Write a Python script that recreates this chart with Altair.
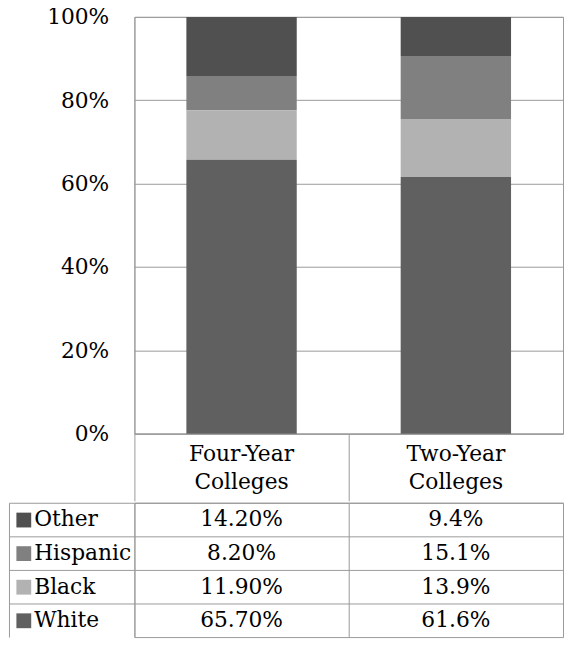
import altair as alt
import pandas as pd

categories = ["Four-Year Colleges", "Two-Year Colleges"]
series = ["Other", "Hispanic", "Black", "White"]
four_year = [14.2, 8.2, 11.9, 65.7]
two_year = [9.4, 15.1, 13.9, 61.6]
four_year_labels = ["14.20%", "8.20%", "11.90%", "65.70%"]
two_year_labels = ["9.4%", "15.1%", "13.9%", "61.6%"]
colors = ["#505050", "#808080", "#b2b2b2", "#606060"]

FONT = "DejaVu Serif"
GRID = "#999999"
FS = 22

rows = []
for cat, vals, labs in [(categories[0], four_year, four_year_labels),
                        (categories[1], two_year, two_year_labels)]:
    for i, (s, v, l) in enumerate(zip(series, vals, labs)):
        rows.append({"category": cat, "series": s, "value": v, "label": l,
                     "stack": len(series) - 1 - i})
df = pd.DataFrame(rows)
legend_df = pd.DataFrame({"series": series})

color_scale = alt.Scale(domain=series, range=colors)
col_scale = alt.Scale(type="band", paddingInner=0, paddingOuter=0)
row_scale = alt.Scale(type="band", paddingInner=0, paddingOuter=0)

top = alt.Chart(df).mark_bar(width=alt.RelativeBandSize(0.515)).encode(
    x=alt.X("category:N", sort=categories, scale=col_scale,
            axis=alt.Axis(title=None, labelAngle=0, labelExpr="split(datum.label, ' ')",
                          labelFont=FONT, labelFontSize=FS, labelColor="black",
                          labelLineHeight=29, labelBaseline="top", labelPadding=-58,
                          ticks=True, tickSize=68, tickColor=GRID, bandPosition=0,
                          domain=True, domainColor=GRID, grid=False,
                          minExtent=68, maxExtent=68)),
    y=alt.Y("value:Q", stack="normalize", scale=alt.Scale(domain=[0, 1]),
            axis=alt.Axis(title=None, format=".0%", values=[0, 0.2, 0.4, 0.6, 0.8, 1],
                          labelFont=FONT, labelFontSize=FS, labelColor="black",
                          labelPadding=26, ticks=False, domain=True, domainColor=GRID,
                          grid=True, gridColor=GRID, minExtent=127, maxExtent=127)),
    color=alt.Color("series:N", scale=color_scale, legend=None),
    order=alt.Order("stack:Q"),
).properties(width=434, height=422)

# data cells + row separators (ticks extend the row lines into the legend column)
cells = alt.Chart(df).mark_text(font=FONT, fontSize=FS, color="black").encode(
    x=alt.X("category:N", sort=categories, scale=col_scale,
            axis=alt.Axis(title=None, labels=False, ticks=False, domain=False,
                          grid=True, gridColor=GRID, bandPosition=0)),
    y=alt.Y("series:N", sort=series, scale=row_scale,
            axis=alt.Axis(title=None, orient="left", labels=False, ticks=True,
                          tickSize=127, tickColor=GRID, tickWidth=1, domain=False,
                          grid=True, gridColor=GRID, bandPosition=0)),
    text="label:N",
)

# legend column: coloured swatches (axis ticks) and series names
swatch_color = {
    "condition": [{"test": f"datum.value === '{s}'", "value": c}
                  for s, c in zip(series[:-1], colors[:-1])],
    "value": colors[-1],
}
legend_axis = alt.Chart(legend_df).mark_point(opacity=0).encode(
    y=alt.Y("series:N", sort=series, scale=row_scale,
            axis=alt.Axis(title=None, orient="left", offset=105, domain=False,
                          grid=False, ticks=True, tickSize=15, tickWidth=15,
                          tickColor=swatch_color, labelAlign="left",
                          labelBaseline="middle", labelPadding=-18,
                          labelFont=FONT, labelFontSize=FS, labelColor="black")),
)

# left border of the legend column
border_axis = alt.Chart(legend_df).mark_point(opacity=0).encode(
    y=alt.Y("series:N", sort=series, scale=row_scale,
            axis=alt.Axis(title=None, orient="left", offset=127, domain=True,
                          domainColor=GRID, grid=False, ticks=False, labels=False)),
)

bottom = alt.layer(cells, legend_axis, border_axis).resolve_axis(
    y="independent").properties(width=434, height=136)

chart = alt.vconcat(top, bottom, spacing=0).properties(
    padding={"top": -7, "left": 0, "right": 0, "bottom": 0}
).configure_view(stroke=GRID).configure_concat(spacing=0)

chart.save("out.html", embed_options={"renderer": "svg", "actions": False})
